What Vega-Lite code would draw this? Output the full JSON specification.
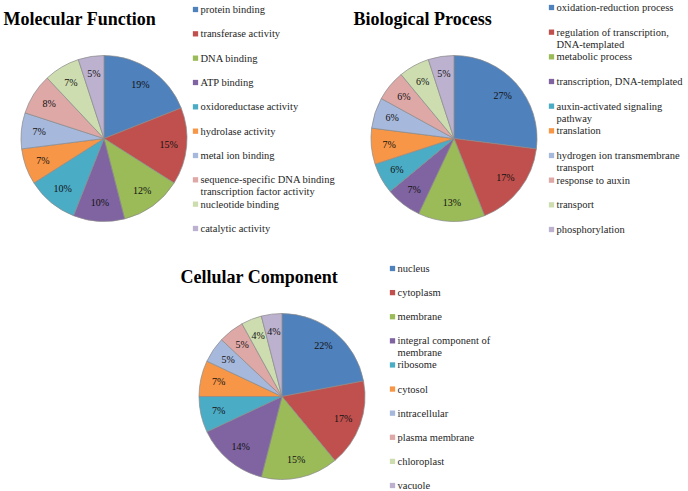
{
  "$schema": "https://vega.github.io/schema/vega-lite/v6.json",
  "padding": {"left": 3, "top": 2.5, "right": 0, "bottom": 0},
  "background": "white",
  "config": {"view": {"stroke": null}, "font": "Liberation Serif"},
  "datasets": {
    "mf": [
      {"rank": 1, "category": "protein binding", "share": 0.19},
      {"rank": 2, "category": "transferase activity", "share": 0.15},
      {"rank": 3, "category": "DNA binding", "share": 0.12},
      {"rank": 4, "category": "ATP binding", "share": 0.10},
      {"rank": 5, "category": "oxidoreductase activity", "share": 0.10},
      {"rank": 6, "category": "hydrolase activity", "share": 0.07},
      {"rank": 7, "category": "metal ion binding", "share": 0.07},
      {"rank": 8, "category": "sequence-specific DNA binding\ntranscription factor activity", "share": 0.08},
      {"rank": 9, "category": "nucleotide binding", "share": 0.07},
      {"rank": 10, "category": "catalytic activity", "share": 0.05}
    ],
    "bp": [
      {"rank": 1, "category": "oxidation-reduction process", "share": 0.27},
      {"rank": 2, "category": "regulation of transcription,\nDNA-templated", "share": 0.17},
      {"rank": 3, "category": "metabolic process", "share": 0.13},
      {"rank": 4, "category": "transcription, DNA-templated", "share": 0.07},
      {"rank": 5, "category": "auxin-activated signaling\npathway", "share": 0.06},
      {"rank": 6, "category": "translation", "share": 0.07},
      {"rank": 7, "category": "hydrogen ion transmembrane\ntransport", "share": 0.06},
      {"rank": 8, "category": "response to auxin", "share": 0.06},
      {"rank": 9, "category": "transport", "share": 0.06},
      {"rank": 10, "category": "phosphorylation", "share": 0.05}
    ],
    "cc": [
      {"rank": 1, "category": "nucleus", "share": 0.22},
      {"rank": 2, "category": "cytoplasm", "share": 0.17},
      {"rank": 3, "category": "membrane", "share": 0.15},
      {"rank": 4, "category": "integral component of\nmembrane", "share": 0.14},
      {"rank": 5, "category": "ribosome", "share": 0.07},
      {"rank": 6, "category": "cytosol", "share": 0.07},
      {"rank": 7, "category": "intracellular", "share": 0.05},
      {"rank": 8, "category": "plasma membrane", "share": 0.05},
      {"rank": 9, "category": "chloroplast", "share": 0.04},
      {"rank": 10, "category": "vacuole", "share": 0.04}
    ]
  },
  "spacing": 28,
  "resolve": {"scale": {"color": "independent", "theta": "independent", "x": "independent", "y": "independent"}},
  "vconcat": [
    {
      "spacing": 0,
      "bounds": "flush",
      "resolve": {"scale": {"color": "independent", "theta": "independent", "x": "independent", "y": "independent"}},
      "hconcat": [
        {
          "width": 166, "height": 166,
          "data": {"name": "mf"},
          "title": {"text": "Molecular Function", "anchor": "start", "dx": -16, "offset": 11, "baseline": "alphabetic", "fontSize": 18, "fontWeight": "bold", "font": "Liberation Serif", "color": "#000000"},
          "encoding": {
            "theta": {"field": "share", "type": "quantitative", "stack": true},
            "order": {"field": "rank", "type": "quantitative"},
            "color": {"field": "category", "type": "nominal", "legend": null,
              "scale": {"domain": ["protein binding", "transferase activity", "DNA binding", "ATP binding", "oxidoreductase activity", "hydrolase activity", "metal ion binding", "sequence-specific DNA binding\ntranscription factor activity", "nucleotide binding", "catalytic activity"],
                        "range": ["#4F81BD", "#C0504D", "#9BBB59", "#8064A2", "#4BACC6", "#F79646", "#A6B8DC", "#DEA8A7", "#CEDDB0", "#BCB1CE"]}}
          },
          "layer": [
            {"mark": {"type": "arc", "outerRadius": 83, "stroke": "#8a8a8a", "strokeWidth": 0.7}},
            {"mark": {"type": "text", "radius": 65, "font": "Liberation Serif", "fontSize": 10},
             "encoding": {"text": {"field": "share", "type": "quantitative", "format": ".0%"}, "color": {"value": "#111111"}}}
          ]
        },
        {
          "width": 17, "height": 166,
          "data": {"name": "mf"},
          "encoding": {
            "y": {"field": "category", "type": "nominal", "sort": null, "axis": null, "scale": {"range": [-46, 173], "padding": 0}}
          },
          "layer": [
            {"mark": {"type": "point", "shape": "square", "filled": true, "size": 28, "opacity": 1},
             "encoding": {"color": {"field": "category", "type": "nominal", "legend": null,
              "scale": {"domain": ["protein binding", "transferase activity", "DNA binding", "ATP binding", "oxidoreductase activity", "hydrolase activity", "metal ion binding", "sequence-specific DNA binding\ntranscription factor activity", "nucleotide binding", "catalytic activity"],
                        "range": ["#4F81BD", "#C0504D", "#9BBB59", "#8064A2", "#4BACC6", "#F79646", "#A6B8DC", "#DEA8A7", "#CEDDB0", "#BCB1CE"]}}}},
            {"mark": {"type": "text", "align": "left", "baseline": "alphabetic", "dx": 5, "dy": 3.5, "lineBreak": "\n", "lineHeight": 12, "fontSize": 10.5, "font": "Liberation Serif", "color": "#262626"},
             "encoding": {"text": {"field": "category", "type": "nominal"}}}
          ]
        },
        {"width": 167, "height": 1, "data": {"values": []}, "mark": "point", "encoding": {}},
        {
          "width": 166, "height": 166,
          "data": {"name": "bp"},
          "title": {"text": "Biological Process", "anchor": "start", "dx": -16, "offset": 11, "baseline": "alphabetic", "fontSize": 18, "fontWeight": "bold", "font": "Liberation Serif", "color": "#000000"},
          "encoding": {
            "theta": {"field": "share", "type": "quantitative", "stack": true},
            "order": {"field": "rank", "type": "quantitative"},
            "color": {"field": "category", "type": "nominal", "legend": null,
              "scale": {"domain": ["oxidation-reduction process", "regulation of transcription,\nDNA-templated", "metabolic process", "transcription, DNA-templated", "auxin-activated signaling\npathway", "translation", "hydrogen ion transmembrane\ntransport", "response to auxin", "transport", "phosphorylation"],
                        "range": ["#4F81BD", "#C0504D", "#9BBB59", "#8064A2", "#4BACC6", "#F79646", "#A6B8DC", "#DEA8A7", "#CEDDB0", "#BCB1CE"]}}
          },
          "layer": [
            {"mark": {"type": "arc", "outerRadius": 83, "stroke": "#8a8a8a", "strokeWidth": 0.7}},
            {"mark": {"type": "text", "radius": 65, "font": "Liberation Serif", "fontSize": 10},
             "encoding": {"text": {"field": "share", "type": "quantitative", "format": ".0%"}, "color": {"value": "#111111"}}}
          ]
        },
        {
          "width": 29, "height": 166,
          "data": {"name": "bp"},
          "encoding": {
            "y": {"field": "category", "type": "nominal", "sort": null, "axis": null, "scale": {"range": [-48, 174], "padding": 0}}
          },
          "layer": [
            {"mark": {"type": "point", "shape": "square", "filled": true, "size": 28, "opacity": 1},
             "encoding": {"color": {"field": "category", "type": "nominal", "legend": null,
              "scale": {"domain": ["oxidation-reduction process", "regulation of transcription,\nDNA-templated", "metabolic process", "transcription, DNA-templated", "auxin-activated signaling\npathway", "translation", "hydrogen ion transmembrane\ntransport", "response to auxin", "transport", "phosphorylation"],
                        "range": ["#4F81BD", "#C0504D", "#9BBB59", "#8064A2", "#4BACC6", "#F79646", "#A6B8DC", "#DEA8A7", "#CEDDB0", "#BCB1CE"]}}}},
            {"mark": {"type": "text", "align": "left", "baseline": "alphabetic", "dx": 5, "dy": 3.5, "lineBreak": "\n", "lineHeight": 12, "fontSize": 10.5, "font": "Liberation Serif", "color": "#262626"},
             "encoding": {"text": {"field": "category", "type": "nominal"}}}
          ]
        }
      ]
    },
    {
      "spacing": 0,
      "bounds": "flush",
      "resolve": {"scale": {"color": "independent", "theta": "independent", "x": "independent", "y": "independent"}},
      "hconcat": [
        {"width": 178, "height": 1, "data": {"values": []}, "mark": "point", "encoding": {}},
        {
          "width": 166, "height": 166,
          "data": {"name": "cc"},
          "title": {"text": "Cellular Component", "anchor": "start", "dx": -17, "offset": 11, "baseline": "alphabetic", "fontSize": 18, "fontWeight": "bold", "font": "Liberation Serif", "color": "#000000"},
          "encoding": {
            "theta": {"field": "share", "type": "quantitative", "stack": true},
            "order": {"field": "rank", "type": "quantitative"},
            "color": {"field": "category", "type": "nominal", "legend": null,
              "scale": {"domain": ["nucleus", "cytoplasm", "membrane", "integral component of\nmembrane", "ribosome", "cytosol", "intracellular", "plasma membrane", "chloroplast", "vacuole"],
                        "range": ["#4F81BD", "#C0504D", "#9BBB59", "#8064A2", "#4BACC6", "#F79646", "#A6B8DC", "#DEA8A7", "#CEDDB0", "#BCB1CE"]}}
          },
          "layer": [
            {"mark": {"type": "arc", "outerRadius": 83, "stroke": "#8a8a8a", "strokeWidth": 0.7}},
            {"mark": {"type": "text", "radius": 65, "font": "Liberation Serif", "fontSize": 10},
             "encoding": {"text": {"field": "share", "type": "quantitative", "format": ".0%"}, "color": {"value": "#111111"}}}
          ]
        },
        {
          "width": 55, "height": 166,
          "data": {"name": "cc"},
          "encoding": {
            "y": {"field": "category", "type": "nominal", "sort": null, "axis": null, "scale": {"range": [-45, 172], "padding": 0}}
          },
          "layer": [
            {"mark": {"type": "point", "shape": "square", "filled": true, "size": 28, "opacity": 1},
             "encoding": {"color": {"field": "category", "type": "nominal", "legend": null,
              "scale": {"domain": ["nucleus", "cytoplasm", "membrane", "integral component of\nmembrane", "ribosome", "cytosol", "intracellular", "plasma membrane", "chloroplast", "vacuole"],
                        "range": ["#4F81BD", "#C0504D", "#9BBB59", "#8064A2", "#4BACC6", "#F79646", "#A6B8DC", "#DEA8A7", "#CEDDB0", "#BCB1CE"]}}}},
            {"mark": {"type": "text", "align": "left", "baseline": "alphabetic", "dx": 5, "dy": 3.5, "lineBreak": "\n", "lineHeight": 12, "fontSize": 10.5, "font": "Liberation Serif", "color": "#262626"},
             "encoding": {"text": {"field": "category", "type": "nominal"}}}
          ]
        }
      ]
    }
  ]
}
